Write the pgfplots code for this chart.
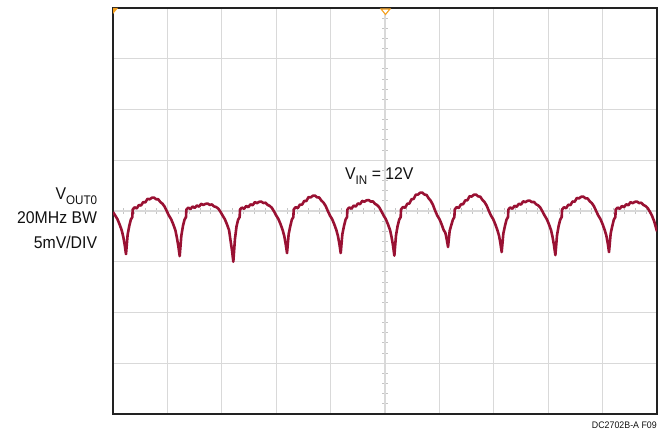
\documentclass[border=0pt]{standalone}
\usepackage{pgfplots}
\pgfplotsset{compat=1.18}
\usepackage{fontspec}
\setmainfont{Liberation Sans}[FakeStretch=0.93]

\definecolor{gridgray}{RGB}{217,217,217}
\definecolor{framegray}{RGB}{34,34,34}
\definecolor{trace}{RGB}{153,17,51}
\definecolor{trig}{RGB}{245,160,30}
\definecolor{ink}{RGB}{17,17,17}

\newcommand{\lbl}{\fontsize{17bp}{17bp}\selectfont}
\newcommand{\sub}[1]{\raisebox{-5bp}{\fontsize{12.5bp}{12.5bp}\selectfont #1}}

\begin{document}
\begin{tikzpicture}
\path[use as bounding box] (-113bp,-17bp) rectangle (549bp,414bp);

% minor graticule ticks on the centre lines
\foreach \k in {1,...,39} {
  \draw[gridgray!70!black!30!gridgray, line width=1bp] (269bp,\k*10.15bp) -- (275bp,\k*10.15bp);
}
\foreach \k in {1,...,49} {
  \draw[gridgray!70!black!30!gridgray, line width=1bp] (\k*10.88bp,200bp) -- (\k*10.88bp,206bp);
}

\begin{axis}[
  scale only axis,
  width=544bp, height=406bp,
  xmin=0, xmax=10, ymin=-4, ymax=4,
  xtick={0,...,10}, ytick={-4,...,4},
  xticklabel=\empty, yticklabel=\empty,
  major tick length=0pt,
  grid=major,
  grid style={gridgray, line width=1.1bp},
  axis line style={framegray, line width=2.2bp},
]
\addplot[trace, line width=2.6bp, line join=round] coordinates {
(0.000,-0.020) (0.041,-0.090) (0.081,-0.160) (0.120,-0.260) (0.160,-0.380) (0.189,-0.510) (0.214,-0.660)
(0.239,-0.850) (0.269,-0.468) (0.298,-0.300) (0.328,-0.170) (0.355,-0.120) (0.362,0.030) (0.397,0.073) (0.436,0.051) (0.476,0.118) (0.515,0.108) (0.555,0.176) (0.594,0.169) (0.634,0.240) (0.673,0.230) (0.713,0.260) (0.752,0.265) (0.792,0.232) (0.831,0.231) (0.870,0.177) (0.910,0.143) (0.949,0.086) (0.989,-0.004) (1.028,-0.090) (1.068,-0.160) (1.107,-0.260) (1.147,-0.380) (1.176,-0.534) (1.201,-0.694)
(1.226,-0.890) (1.256,-0.490) (1.285,-0.300) (1.315,-0.170) (1.342,-0.120) (1.349,0.030) (1.384,0.066) (1.423,0.037) (1.463,0.089) (1.502,0.060) (1.542,0.110) (1.581,0.085) (1.621,0.142) (1.660,0.118) (1.700,0.140) (1.739,0.147) (1.779,0.120) (1.818,0.129) (1.857,0.091) (1.897,0.077) (1.936,0.046) (1.976,-0.016) (2.015,-0.090) (2.055,-0.160) (2.094,-0.260) (2.134,-0.380) (2.163,-0.600) (2.188,-0.780)
(2.212,-1.000) (2.242,-0.550) (2.271,-0.300) (2.301,-0.170) (2.328,-0.120) (2.335,0.030) (2.370,0.068) (2.409,0.042) (2.449,0.099) (2.488,0.076) (2.528,0.132) (2.567,0.113) (2.607,0.175) (2.646,0.155) (2.686,0.180) (2.725,0.186) (2.765,0.157) (2.804,0.163) (2.843,0.120) (2.883,0.099) (2.922,0.059) (2.962,-0.012) (3.001,-0.090) (3.041,-0.160) (3.080,-0.260) (3.120,-0.380) (3.149,-0.498) (3.174,-0.647)
(3.199,-0.830) (3.229,-0.457) (3.258,-0.300) (3.288,-0.170) (3.315,-0.120) (3.322,0.030) (3.357,0.076) (3.396,0.056) (3.436,0.127) (3.475,0.124) (3.515,0.198) (3.554,0.197) (3.594,0.273) (3.633,0.267) (3.673,0.300) (3.712,0.304) (3.752,0.269) (3.791,0.265) (3.830,0.206) (3.870,0.165) (3.909,0.099) (3.949,0.000) (3.988,-0.090) (4.028,-0.160) (4.067,-0.260) (4.107,-0.380) (4.136,-0.498) (4.161,-0.647)
(4.186,-0.830) (4.216,-0.457) (4.245,-0.300) (4.275,-0.170) (4.302,-0.120) (4.309,0.030) (4.344,0.070) (4.383,0.045) (4.423,0.106) (4.462,0.088) (4.502,0.149) (4.541,0.134) (4.581,0.199) (4.620,0.183) (4.660,0.210) (4.699,0.216) (4.739,0.185) (4.778,0.189) (4.817,0.141) (4.857,0.116) (4.896,0.069) (4.936,-0.009) (4.975,-0.090) (5.015,-0.160) (5.054,-0.260) (5.094,-0.380) (5.123,-0.528) (5.148,-0.686)
(5.172,-0.880) (5.202,-0.484) (5.231,-0.300) (5.261,-0.170) (5.288,-0.120) (5.295,0.030) (5.330,0.079) (5.369,0.063) (5.409,0.142) (5.448,0.148) (5.488,0.231) (5.527,0.239) (5.567,0.322) (5.606,0.323) (5.646,0.360) (5.685,0.363) (5.725,0.325) (5.764,0.316) (5.803,0.249) (5.843,0.198) (5.882,0.119) (5.922,0.006) (5.961,-0.090) (6.001,-0.160) (6.040,-0.260) (6.080,-0.380) (6.109,-0.426) (6.134,-0.554)
(6.159,-0.710) (6.189,-0.390) (6.218,-0.280) (6.248,-0.170) (6.275,-0.120) (6.282,0.030) (6.317,0.077) (6.356,0.059) (6.396,0.132) (6.435,0.132) (6.475,0.209) (6.514,0.211) (6.554,0.290) (6.593,0.285) (6.633,0.320) (6.672,0.324) (6.712,0.288) (6.751,0.282) (6.790,0.220) (6.830,0.176) (6.869,0.106) (6.909,0.002) (6.948,-0.090) (6.988,-0.160) (7.027,-0.260) (7.067,-0.380) (7.096,-0.486) (7.121,-0.632)
(7.145,-0.810) (7.175,-0.446) (7.204,-0.300) (7.234,-0.170) (7.261,-0.120) (7.268,0.030) (7.303,0.070) (7.342,0.044) (7.382,0.103) (7.421,0.084) (7.461,0.143) (7.500,0.127) (7.540,0.191) (7.579,0.174) (7.619,0.200) (7.658,0.206) (7.698,0.176) (7.737,0.180) (7.776,0.134) (7.816,0.110) (7.855,0.066) (7.895,-0.010) (7.934,-0.090) (7.974,-0.160) (8.013,-0.260) (8.053,-0.380) (8.082,-0.522) (8.107,-0.679)
(8.132,-0.870) (8.162,-0.479) (8.191,-0.300) (8.221,-0.170) (8.248,-0.120) (8.255,0.030) (8.290,0.074) (8.329,0.054) (8.369,0.123) (8.408,0.116) (8.448,0.187) (8.487,0.183) (8.527,0.257) (8.566,0.248) (8.606,0.280) (8.645,0.284) (8.685,0.250) (8.724,0.248) (8.763,0.192) (8.803,0.154) (8.842,0.092) (8.882,-0.002) (8.921,-0.090) (8.961,-0.160) (9.000,-0.260) (9.040,-0.380) (9.069,-0.486) (9.094,-0.632)
(9.118,-0.810) (9.148,-0.446) (9.177,-0.300) (9.207,-0.170) (9.234,-0.120) (9.241,0.030) (9.276,0.068) (9.315,0.042) (9.355,0.099) (9.394,0.076) (9.434,0.132) (9.473,0.113) (9.513,0.175) (9.552,0.155) (9.592,0.180) (9.631,0.186) (9.671,0.157) (9.710,0.163) (9.749,0.120) (9.789,0.099) (9.828,0.059) (9.868,-0.012) (9.907,-0.090) (9.947,-0.200) (10.000,-0.400)
};
\end{axis}

% trigger markers
\fill[trig] (0,406bp) -- (5bp,406bp) -- (0,400bp) -- cycle;
\draw[trig, fill=white, line width=1.1bp] (268bp,405bp) -- (277bp,405bp) -- (272.5bp,399.5bp) -- cycle;

% labels
\node[anchor=base east, inner sep=0pt, text=ink] at (-15.7bp,214.7bp) {\lbl V\sub{OUT0}};
\node[anchor=base east, inner sep=0pt, text=ink] at (-15.7bp,190.7bp) {\lbl 20MHz BW};
\node[anchor=base east, inner sep=0pt, text=ink] at (-15.7bp,165.7bp) {\lbl 5mV/DIV};
\node[anchor=base west, inner sep=0pt, text=ink] at (232bp,234bp) {\lbl V\sub{IN} = 12V};
\node[anchor=base east, inner sep=0pt, text=ink] at (544bp,-14.3bp) {\fontsize{9.5bp}{9.5bp}\selectfont DC2702B-A F09};
\end{tikzpicture}
\end{document}
